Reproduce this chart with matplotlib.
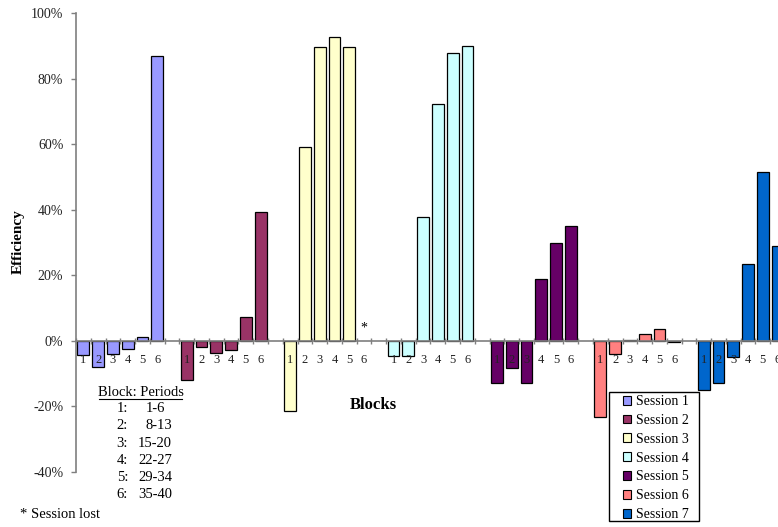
import numpy as np
import matplotlib
matplotlib.use("Agg")
import matplotlib.pyplot as plt
from matplotlib.patches import Patch, Rectangle
from matplotlib.ticker import FixedLocator, FuncFormatter

plt.rcParams['font.family'] = ['Liberation Serif', 'DejaVu Serif']

# efficiency in %, blocks 1..6 per session (nan = session lost)
blocks = ["1", "2", "3", "4", "5", "6"]
sessions = ["Session 1", "Session 2", "Session 3", "Session 4",
            "Session 5", "Session 6", "Session 7"]
s1 = [-4.4, -8.0, -3.9, -2.5, 1.3, 86.9]
s2 = [-12.0, -1.9, -3.8, -2.8, 7.2, 39.4]
s3 = [-21.5, 59.1, 89.6, 92.7, 89.5, np.nan]
s4 = [-4.6, -4.5, 37.9, 72.2, 87.8, 90.0]
s5 = [-12.9, -8.4, -12.9, 18.8, 29.9, 35.1]
s6 = [-23.1, -3.9, 0.2, 2.1, 3.5, -0.3]
s7 = [-14.9, -12.9, -5.0, 23.5, 51.4, 28.8]
values = [s1, s2, s3, s4, s5, s6, s7]
colors = ["#9999FF", "#993366", "#FFFFCC", "#CCFFFF",
          "#660066", "#FF8080", "#0066CC"]

periods = ["1-6", "8-13", "15-20", "22-27", "29-34", "35-40"]

W, H = 778, 527
fig = plt.figure(figsize=(W / 100, H / 100), dpi=100)
ax = fig.add_axes([76 / W, (H - 472) / H, 709 / W, (472 - 13) / H])

step = len(blocks) + 1
centers = []
for i, (vals, col) in enumerate(zip(values, colors)):
    x = np.arange(len(blocks)) + i * step
    centers.extend(x)
    ax.bar(x, vals, width=0.8, color=col, edgecolor="black", linewidth=0.9, zorder=0.5)

# lost session marker
ax.text(2 * step + 5, 4, "*", ha="center", va="center", fontsize=10)

nslots = len(sessions) * step - 1
ax.set_xlim(-0.5, nslots - 0.5)
ax.set_ylim(-40, 100)

grey = "#7f7f7f"
for s in ["top", "right"]:
    ax.spines[s].set_visible(False)
ax.spines["bottom"].set_position(("data", 0))
ax.spines["bottom"].set_color(grey)
ax.spines["left"].set_color(grey)
ax.spines["bottom"].set_linewidth(1.2)
ax.spines["left"].set_linewidth(1.2)

ax.set_yticks(np.arange(-40, 101, 20))
ax.yaxis.set_major_formatter(FuncFormatter(lambda v, p: f"{v:.0f}%"))
ax.tick_params(axis="y", direction="out", length=3.6, width=1, color=grey,
               pad=5.5, labelsize=10, labelcolor="#222222")

ax.xaxis.set_major_locator(FixedLocator(np.arange(-0.5, nslots, 1)))
ax.xaxis.set_major_formatter(FuncFormatter(lambda v, p: ""))
ax.xaxis.set_minor_locator(FixedLocator(centers))
ax.xaxis.set_minor_formatter(FuncFormatter(lambda v, p: blocks[int(round(v)) % step]))
ax.tick_params(axis="x", which="major", direction="inout", length=4, width=1, color=grey)
ax.tick_params(axis="x", which="minor", length=0, pad=9.5, labelsize=9, labelcolor="#222222")

fig.text(18 / W, 1 - 242 / H, "Efficiency", rotation=90, ha="center", va="center",
         fontsize=11, fontweight="bold")
fig.text(373 / W, 1 - 405 / H, "Blocks", ha="center", va="center",
         fontsize=12, fontweight="bold")

# block/period table
fig.text(141 / W, 1 - 392 / H, "Block: Periods", ha="center", va="center", fontsize=10.5)
fig.add_artist(plt.Line2D([99 / W, 182 / W], [1 - 399 / H, 1 - 399 / H], color="black", lw=0.8))
for k, p in enumerate(periods):
    y = 1 - (408.5 + k * 17.3) / H
    fig.text(128 / W, y, f"{k + 1}:", ha="right", va="center", fontsize=10.5)
    fig.text((146 if len(p) <= 4 else 138) / W, y, p, ha="left", va="center", fontsize=10.5)
fig.text(20 / W, 1 - 514 / H, "* Session lost", ha="left", va="center", fontsize=10.5)

# legend with its own box
fig.add_artist(Rectangle((609 / W, 1 - 521 / H), 90 / W, 129 / H, transform=fig.transFigure,
                         fill=False, edgecolor="black", linewidth=1))
handles = [Patch(facecolor=c, edgecolor="black", linewidth=0.8) for c in colors]
fig.legend(handles, sessions, loc="upper left", bbox_to_anchor=(623 / W, 1 - 395 / H),
           borderaxespad=0, frameon=False, borderpad=0,
           fontsize=10, handlelength=0.6, handleheight=0.6, handletextpad=0.3,
           labelspacing=0.42)

fig.savefig("out.png", dpi=100)
